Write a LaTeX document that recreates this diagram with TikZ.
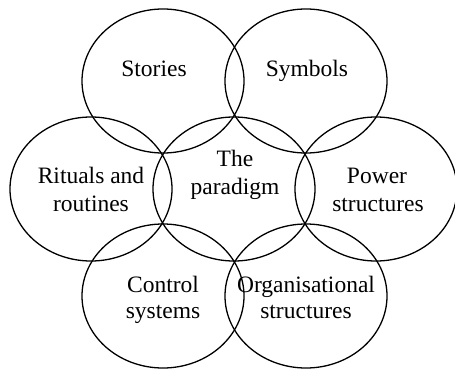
\documentclass[tikz,border=0pt]{standalone}
\usepackage{fontspec}
\setmainfont{Liberation Serif}
\usetikzlibrary{shapes.geometric}
\begin{document}
\begin{tikzpicture}[x=1pt,y=-1pt,
  ring/.style={draw=black,line width=1.3pt,ellipse,minimum width=162pt,minimum height=144pt,inner sep=0pt},
  lbl/.style={anchor=base,inner sep=0pt,font=\fontsize{23.5}{28}\selectfont}]
\useasboundingbox (0,0) rectangle (455,369);
\node[ring] (stories) at (163,81) {};
\node[ring] (symbols) at (306,81) {};
\node[ring] (rituals) at (91,189) {};
\node[ring] (paradigm) at (234,189) {};
\node[ring] (power) at (376,189) {};
\node[ring] (control) at (163,296) {};
\node[ring] (organ) at (306,296) {};
\node[lbl] (t1) at (154,77) {Stories};
\node[lbl] (t2) at (307,77) {Symbols};
\node[lbl] (t3) at (91,183) {Rituals and};
\node[lbl] (t4) at (91,211) {routines};
\node[lbl] (t5) at (235,166) {The};
\node[lbl] (t6) at (235,194) {paradigm};
\node[lbl] (t7) at (377,183) {Power};
\node[lbl] (t8) at (378,211) {structures};
\node[lbl] (t9) at (163,292) {Control};
\node[lbl] (t10) at (163,318) {systems};
\node[lbl] (t11) at (306,292) {Organisational};
\node[lbl] (t12) at (306,318) {structures};
\end{tikzpicture}
\end{document}
